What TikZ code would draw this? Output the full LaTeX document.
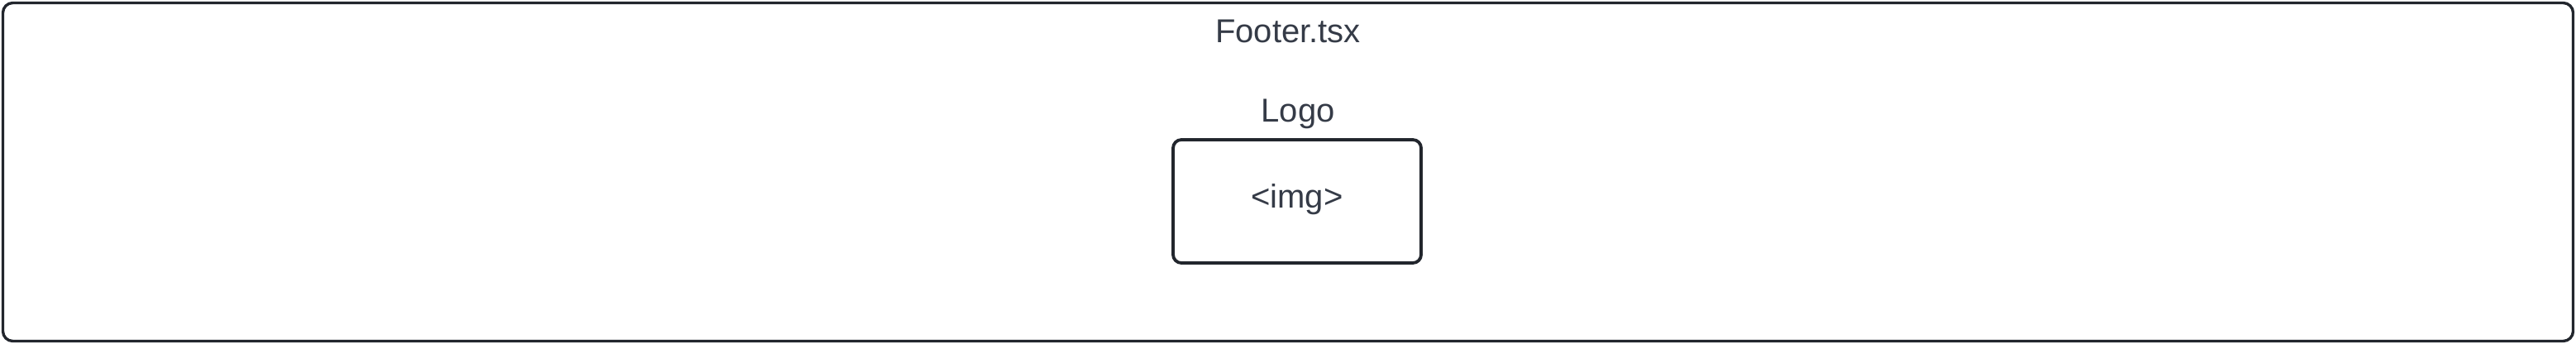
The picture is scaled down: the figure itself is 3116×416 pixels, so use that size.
\documentclass[tikz,border=0pt]{standalone}
\usepackage{fontspec}
\setmainfont{Liberation Sans}
\definecolor{txt}{HTML}{353B47}
\definecolor{strk}{HTML}{22262D}
\tikzset{
  frame/.style={draw=strk, line width=1.7pt, rounded corners=6pt},
  imgbox/.style={draw=strk, line width=1.9pt, rounded corners=5pt, minimum width=150pt, minimum height=74.5pt, inner sep=0pt, text=txt, font=\fontsize{20pt}{24pt}\selectfont, text height=12pt, text depth=4pt},
  label/.style={text=txt, font=\fontsize{20pt}{24pt}\selectfont, inner sep=0pt, anchor=base}
}
\begin{document}
\begin{tikzpicture}[x=0.5pt, y=-0.5pt]
  \useasboundingbox (0,0) rectangle (3116,416);
  \coordinate (tl) at (3.5,3.5);
  \coordinate (br) at (3112.5,412.5);
  \draw[frame] (tl) rectangle (br);
  \node[label] (footer) at (1558,52) {Footer.tsx};
  \node[label] (logo) at (1570,148) {Logo};
  \node[imgbox] (img) at (1569,243.5) {<img>};
\end{tikzpicture}
\end{document}
